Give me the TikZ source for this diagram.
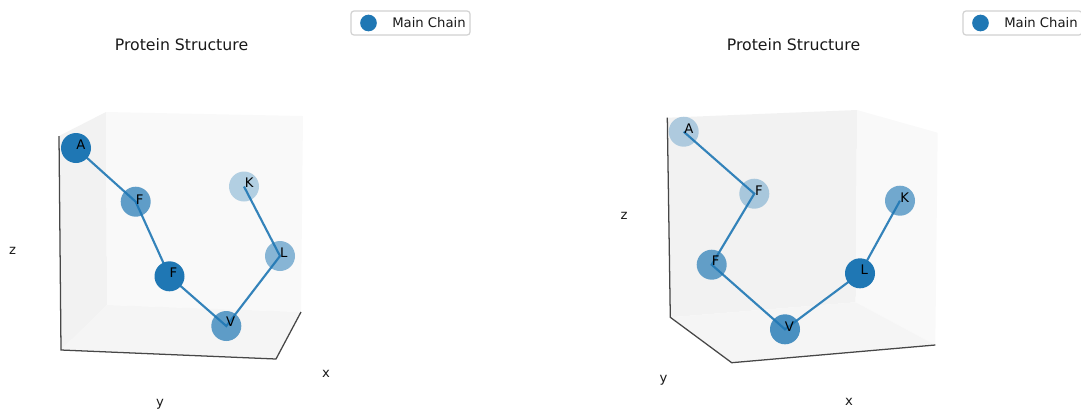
\documentclass[tikz,border=0pt]{standalone}
\usepackage{fontspec}
\setmainfont{DejaVu Sans}
\usetikzlibrary{backgrounds}
\definecolor{tabblue}{HTML}{1F77B4}
\definecolor{paneA}{HTML}{F2F2F2}
\definecolor{paneB}{HTML}{F9F9F9}
\definecolor{paneC}{HTML}{F5F5F5}
\tikzset{
  residue/.style={circle,fill=tabblue,inner sep=0pt,minimum size=22.5pt,text opacity=1},
  reslabel/.style={inner sep=0pt,font=\fontsize{9.9}{12}\selectfont,text=black},
  axlabel/.style={inner sep=0pt,font=\fontsize{9.9}{12}\selectfont,text=black!90},
  plottitle/.style={inner sep=0pt,font=\fontsize{11.8}{15}\selectfont,text=black!90},
  legendbox/.style={draw=black!18,line width=0.9pt,fill=white,rounded corners=2.2pt},
  legendtext/.style={inner sep=0pt,anchor=west,font=\fontsize{9.9}{12}\selectfont,text=black!90},
  legendmark/.style={circle,fill=tabblue,inner sep=0pt,minimum size=12.5pt},
  chain/.style={tabblue,line width=1.6pt,opacity=0.9},
  axline/.style={black!72,line width=0.95pt},
}
\begin{document}
\begin{tikzpicture}[x=0.75pt,y=-0.75pt]
  % 1 enhet = 1 piksel i referansen, y nedover
  \useasboundingbox (0,0) rectangle (1081,412);

  % Venstre plott: hjorner i boksen
  \coordinate (lz) at (59,136);
  \coordinate (lo) at (61,350);
  \coordinate (ly) at (276,359);
  \coordinate (lx) at (301,312);
  \coordinate (lt) at (106,112);
  \coordinate (lb) at (107,305);
  \coordinate (lr) at (303,116);
  % Venstre plott: aminosyrer
  \node[residue,fill opacity=1] (lA) at (76,148) {};
  \node[residue,fill opacity=0.7] (lF) at (135.7,201.7) {};
  \node[residue,fill opacity=1] (lG) at (169.5,276.3) {};
  \node[residue,fill opacity=0.7] (lV) at (226.3,326) {};
  \node[residue,fill opacity=0.52] (lL) at (280,256) {};
  \node[residue,fill opacity=0.32] (lK) at (244,186.5) {};
  \begin{pgfonlayer}{background}
    \fill[paneA] (lz) -- (lt) -- (lb) -- (lo) -- cycle;
    \fill[paneB] (lt) -- (lr) -- (lx) -- (lb) -- cycle;
    \fill[paneC] (lo) -- (lb) -- (lx) -- (ly) -- cycle;
    \draw[axline] (lz) -- (lo) -- (ly) -- (lx);
    \draw[chain] (lA.center) -- (lF.center) -- (lG.center) -- (lV.center) -- (lL.center) -- (lK.center);
  \end{pgfonlayer}
  \node[reslabel] (ltA) at (81,144.5) {A};
  \node[reslabel] (ltF) at (139.7,199.3) {F};
  \node[reslabel] (ltG) at (173.3,272.7) {F};
  \node[reslabel] (ltV) at (230.7,322) {V};
  \node[reslabel] (ltL) at (283.7,252.7) {L};
  \node[reslabel] (ltK) at (249.3,183) {K};
  % Venstre plott: akser og tittel
  \node[axlabel] (lax) at (326,373.5) {x};
  \node[axlabel] (lay) at (160,404.5) {y};
  \node[axlabel] (laz) at (12.5,250.5) {z};
  \node[plottitle] (ltitle) at (181.5,45) {Protein Structure};
  % Venstre forklaring
  \draw[legendbox] (351,11) rectangle (470,35);
  \node[legendmark] (lmark) at (368.5,23) {};
  \node[legendtext] (llegend) at (392,23) {Main Chain};

  % Hoyre plott: hjorner i boksen
  \coordinate (rz) at (667.3,117.7);
  \coordinate (ro) at (670.3,317.3);
  \coordinate (ry) at (731.7,362.7);
  \coordinate (rx) at (935.3,345);
  \coordinate (rt) at (857,110);
  \coordinate (rb) at (855.7,302.3);
  \coordinate (rr) at (937.7,132.7);
  % Hoyre plott: aminosyrer
  \node[residue,fill opacity=0.32] (rA) at (683.7,131.7) {};
  \node[residue,fill opacity=0.35] (rF) at (754.3,193.7) {};
  \node[residue,fill opacity=0.68] (rG) at (711.7,264.7) {};
  \node[residue,fill opacity=0.8] (rV) at (785,329.3) {};
  \node[residue,fill opacity=1] (rL) at (860,273.3) {};
  \node[residue,fill opacity=0.62] (rK) at (900,200.7) {};
  \begin{pgfonlayer}{background}
    \fill[paneA] (rz) -- (rt) -- (rb) -- (ro) -- cycle;
    \fill[paneB] (rt) -- (rr) -- (rx) -- (rb) -- cycle;
    \fill[paneC] (ro) -- (rb) -- (rx) -- (ry) -- cycle;
    \draw[axline] (rz) -- (ro) -- (ry) -- (rx);
    \draw[chain] (rA.center) -- (rF.center) -- (rG.center) -- (rV.center) -- (rL.center) -- (rK.center);
  \end{pgfonlayer}
  \node[reslabel] (rtA) at (689,128.7) {A};
  \node[reslabel] (rtF) at (759,190.3) {F};
  \node[reslabel] (rtG) at (715.7,261) {F};
  \node[reslabel] (rtV) at (789.3,326.3) {V};
  \node[reslabel] (rtL) at (864.3,269.7) {L};
  \node[reslabel] (rtK) at (904.7,197.7) {K};
  % Hoyre plott: akser og tittel
  \node[axlabel] (rax) at (849,401.5) {x};
  \node[axlabel] (ray) at (663.5,380.5) {y};
  \node[axlabel] (raz) at (624,215.5) {z};
  \node[plottitle] (rtitle) at (793.5,45) {Protein Structure};
  % Hoyre forklaring, kuttet av bildekanten
  \draw[legendbox] (963,11) rectangle (1082,35);
  \node[legendmark] (rmark) at (980.5,23) {};
  \node[legendtext] (rlegend) at (1004,23) {Main Chain};
\end{tikzpicture}
\end{document}
